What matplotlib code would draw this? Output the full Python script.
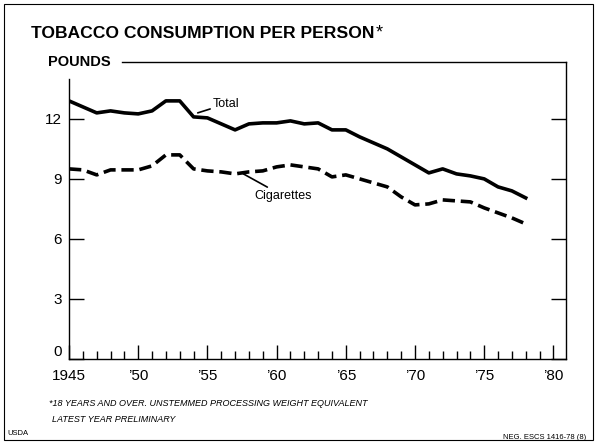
import matplotlib
matplotlib.use("Agg")
import matplotlib.pyplot as plt
import matplotlib.transforms as mtransforms
from matplotlib.patches import Rectangle
from matplotlib.lines import Line2D

plt.rcParams['font.family'] = ['Liberation Sans', 'DejaVu Sans']

# data (pounds per person, 18 and over)
years = list(range(1945, 1979))
total = [12.9, 12.6, 12.3, 12.4, 12.3, 12.25, 12.4, 12.9, 12.9, 12.1,
         12.05, 11.75, 11.45, 11.75, 11.8, 11.8, 11.9, 11.75, 11.8, 11.45,
         11.45, 11.1, 10.8, 10.5, 10.1, 9.7, 9.3, 9.5, 9.25, 9.15,
         9.0, 8.6, 8.4, 8.05]
cigarettes = [9.5, 9.45, 9.2, 9.45, 9.45, 9.45, 9.65, 10.2, 10.2, 9.5,
              9.4, 9.35, 9.25, 9.35, 9.4, 9.6, 9.7, 9.6, 9.5, 9.1,
              9.2, 9.0, 8.8, 8.6, 8.1, 7.7, 7.75, 7.95, 7.9, 7.85,
              7.55, 7.3, 7.05, 6.75]
xtick_pos = [1945, 1950, 1955, 1960, 1965, 1970, 1975, 1980]
xtick_labels = ['1945', '\u201950', '\u201955', '\u201960', '\u201965',
                '\u201970', '\u201975', '\u201980']
ytick_pos = [0, 3, 6, 9, 12]

fig = plt.figure(figsize=(5.95, 4.42), dpi=100)
ax = fig.add_axes([0.116, 0.188, 0.835, 0.672])

ax.plot(years, total, color='black', lw=2.6, solid_joinstyle='round')
ax.plot(years, cigarettes, color='black', lw=2.6, dashes=(3.4, 1.6))

ax.set_xlim(1945, 1980.9)
ax.set_ylim(0, 14.85)

# axes frame: top line starts after POUNDS
ax.spines['top'].set_visible(False)
ax.spines['left'].set_bounds(0, 14.0)
for s in ax.spines.values():
    s.set_linewidth(1.0)
fig.add_artist(Line2D([0.205, 0.951], [0.86, 0.86], color='black', lw=1.0))

ax.set_yticks(ytick_pos)
ax.set_yticklabels([str(v) for v in ytick_pos], fontsize=11)
ax.tick_params(axis='y', direction='in', length=11, width=1.0, right=True, pad=5)
# the 0 label sits a little above the baseline, clear of 1945
zero = ax.get_yticklabels()[0]
zero.set_transform(zero.get_transform() +
                   mtransforms.ScaledTranslation(0, 6 / 72, fig.dpi_scale_trans))

ax.set_xticks(xtick_pos)
ax.set_xticklabels(xtick_labels, fontsize=11)
ax.set_xticks(range(1946, 1980), minor=True)
ax.tick_params(axis='x', which='major', direction='in', length=10, width=1.0, pad=7)
ax.tick_params(axis='x', which='minor', direction='in', length=6, width=1.0)

# series labels with leader lines
ax.annotate('Total', xy=(1954.3, 12.3), xytext=(1955.4, 12.75),
            fontsize=9, va='center', ha='left',
            arrowprops=dict(arrowstyle='-', color='black', lw=1.2, shrinkA=0, shrinkB=0))
ax.annotate('Cigarettes', xy=(1957.6, 9.25), xytext=(1958.4, 8.15),
            fontsize=9, va='center', ha='left',
            arrowprops=dict(arrowstyle='-', color='black', lw=1.2, shrinkA=0, shrinkB=0))

# titles and notes
title = fig.text(0.052, 0.925, 'TOBACCO CONSUMPTION PER PERSON', fontsize=12.6,
                 fontweight='bold', va='center', ha='left')
ax.annotate('*', xy=(1, 1), xycoords=title, xytext=(1, 1), textcoords='offset points',
            fontsize=13, va='top', ha='left')
fig.text(0.08, 0.86, 'POUNDS', fontsize=10.5, fontweight='bold', va='center', ha='left')
fig.text(0.083, 0.088, '*18 YEARS AND OVER. UNSTEMMED PROCESSING WEIGHT EQUIVALENT',
         fontsize=6.5, style='italic', va='center', ha='left')
fig.text(0.088, 0.052, 'LATEST YEAR PRELIMINARY', fontsize=6.5, style='italic',
         va='center', ha='left')
fig.text(0.012, 0.02, 'USDA', fontsize=5.5, va='center', ha='left')
fig.text(0.985, 0.011, 'NEG. ESCS 1416-78 (8)', fontsize=5.5, va='center', ha='right')

# outer frame
fig.add_artist(Rectangle((0.006, 0.004), 0.99, 0.988, transform=fig.transFigure,
                         fill=False, edgecolor='black', lw=0.8))

fig.savefig('out.png', dpi=100)
